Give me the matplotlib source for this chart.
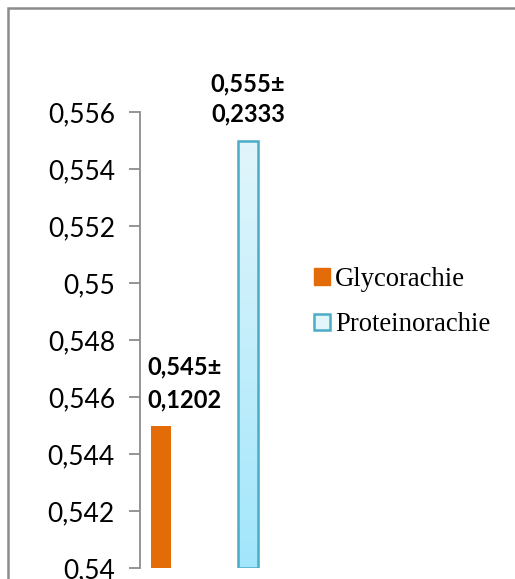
import numpy as np
import matplotlib

matplotlib.use("Agg")
import matplotlib.pyplot as plt
from matplotlib.patches import Patch, Rectangle

# data
categories = ["Glycorachie", "Proteinorachie"]
means = [0.545, 0.555]
labels = ["0,545±\n0,1202", "0,555±\n0,2333"]
yticks = [0.540, 0.542, 0.544, 0.546, 0.548, 0.550, 0.552, 0.554, 0.556]
ytick_labels = ["0,54", "0,542", "0,544", "0,546", "0,548", "0,55", "0,552", "0,554", "0,556"]

ORANGE = "#E36C09"
BLUE_EDGE = "#4BACC6"
BLUE_TOP = "#E2F6FC"
BLUE_BOT = "#A2E6FB"

W, H = 515, 579
fig = plt.figure(figsize=(W / 100, H / 100), dpi=100)

# outer chart border, cut off on right and bottom
fig.patches.append(Rectangle((8 / W, -0.1), 1.2, (H - 8) / H + 0.1,
                             transform=fig.transFigure, fill=False,
                             edgecolor="#8C8C8C", linewidth=1.8))

ax = fig.add_axes([140 / W, (H - 568) / H, 160 / W, (568 - 112) / H])

x = np.arange(len(categories))
bw = 0.22
b1 = ax.bar(x[0], means[0] - 0.54, bottom=0.54, width=bw, color=ORANGE, label=categories[0])
b2 = ax.bar(x[1], means[1] - 0.54, bottom=0.54, width=bw, color=BLUE_BOT,
            edgecolor=BLUE_EDGE, linewidth=1.8, label=categories[1], zorder=3)

# gradient fill for the blue bar
r = b2[0]
grad = np.linspace(0, 1, 256).reshape(-1, 1)
cmap = matplotlib.colors.LinearSegmentedColormap.from_list("g", [BLUE_BOT, BLUE_TOP])
im = ax.imshow(grad, cmap=cmap, aspect="auto", origin="lower",
               extent=[r.get_x(), r.get_x() + r.get_width(), 0.54, means[1]], zorder=2)
im.set_clip_path(r)
r.set_facecolor("none")
ax.set_xlim(-0.241, 1.598)
ax.set_ylim(0.540, 0.556)

# value labels
ax.text(0.27, 0.54648, labels[0], ha="center", va="center", fontsize=17,
        fontweight="bold", family="Lato", linespacing=1.5)
ax.text(1.0, 0.55646, labels[1], ha="center", va="center", fontsize=17,
        fontweight="bold", family="Lato", linespacing=1.4, clip_on=False)

ax.set_yticks(yticks)
ax.set_yticklabels(ytick_labels, family="Lato", fontsize=19)
ax.set_xticks([])
for s in ["top", "right", "bottom"]:
    ax.spines[s].set_visible(False)
ax.spines["left"].set_color("#8C8C8C")
ax.spines["left"].set_linewidth(1.3)
ax.tick_params(axis="y", length=8, width=1.3, color="#8C8C8C", pad=10)

handles = [Patch(facecolor=ORANGE, edgecolor=ORANGE),
           Patch(facecolor=BLUE_TOP, edgecolor=BLUE_EDGE, linewidth=1.8)]
fig.legend(handles, categories, loc="center left", bbox_to_anchor=(290 / W, (H - 302) / H),
           frameon=False, prop={"family": "Liberation Serif", "size": 19.2},
           handlelength=0.6, handleheight=0.6, handletextpad=0.18, labelspacing=0.78)

fig.savefig("out.png", dpi=100)
